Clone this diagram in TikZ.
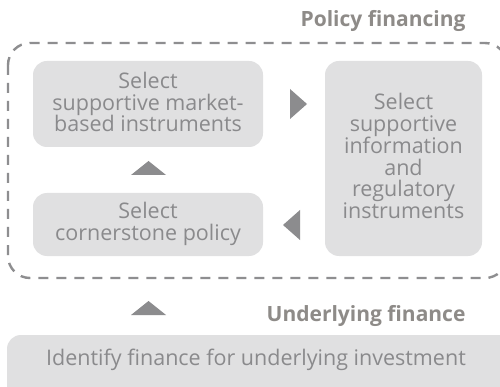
\documentclass[tikz,border=0pt]{standalone}
\usepackage{fontspec}
\setmainfont{Open Sans}
\begin{document}
\begin{tikzpicture}[x=1pt,y=-1pt,
  box/.style={fill=boxgray,rounded corners=14pt,draw=none},
  lbl/.style={text=txtgray,font=\fontsize{21.5}{21.5}\selectfont,align=center},
  head/.style={text=headgray,font=\fontsize{21}{22}\selectfont\bfseries,anchor=east},
  tri/.style={fill=trigray,draw=none}]
\definecolor{boxgray}{HTML}{E0E0E1}
\definecolor{txtgray}{HTML}{8A8A8C}
\definecolor{trigray}{HTML}{8C8C8E}
\definecolor{headgray}{HTML}{8E8B88}
\definecolor{dashgray}{HTML}{8E8E90}
\useasboundingbox (0,0) rectangle (500,387);
\fill[white] (0,0) rectangle (500,387);
% dashed frame
\draw[dashgray,line width=2.4pt,dash pattern=on 10pt off 8pt,rounded corners=22pt] (8,43) rectangle (507,278);
\node[head] (ph) at (469,21) {Policy financing};
% boxes
\path[box] (33,61) rectangle (263,147);
\node[lbl] (b1) at (148,102) {Select\\supportive market-\\based instruments};
\path[box] (325,61) rectangle (482,256);
\node[lbl] (b2) at (403.5,156) {Select\\supportive\\information\\and\\regulatory\\instruments};
\path[box] (33,193) rectangle (263,256);
\node[lbl] (b3) at (148,224) {Select\\cornerstone policy};
\path[box] (7,335) rectangle (520,400);
\node[lbl] (b4) at (256,360) {Identify finance for underlying investment};
\node[head] (uf) at (469,316) {Underlying finance};
% triangles
\fill[tri] (290,89) -- (307,104) -- (290,119) -- cycle;
\fill[tri] (131,175) -- (148.5,161) -- (166,175) -- cycle;
\fill[tri] (300,210) -- (283,225) -- (300,240) -- cycle;
\fill[tri] (131,315) -- (148.5,301) -- (166,315) -- cycle;
\end{tikzpicture}
\end{document}
